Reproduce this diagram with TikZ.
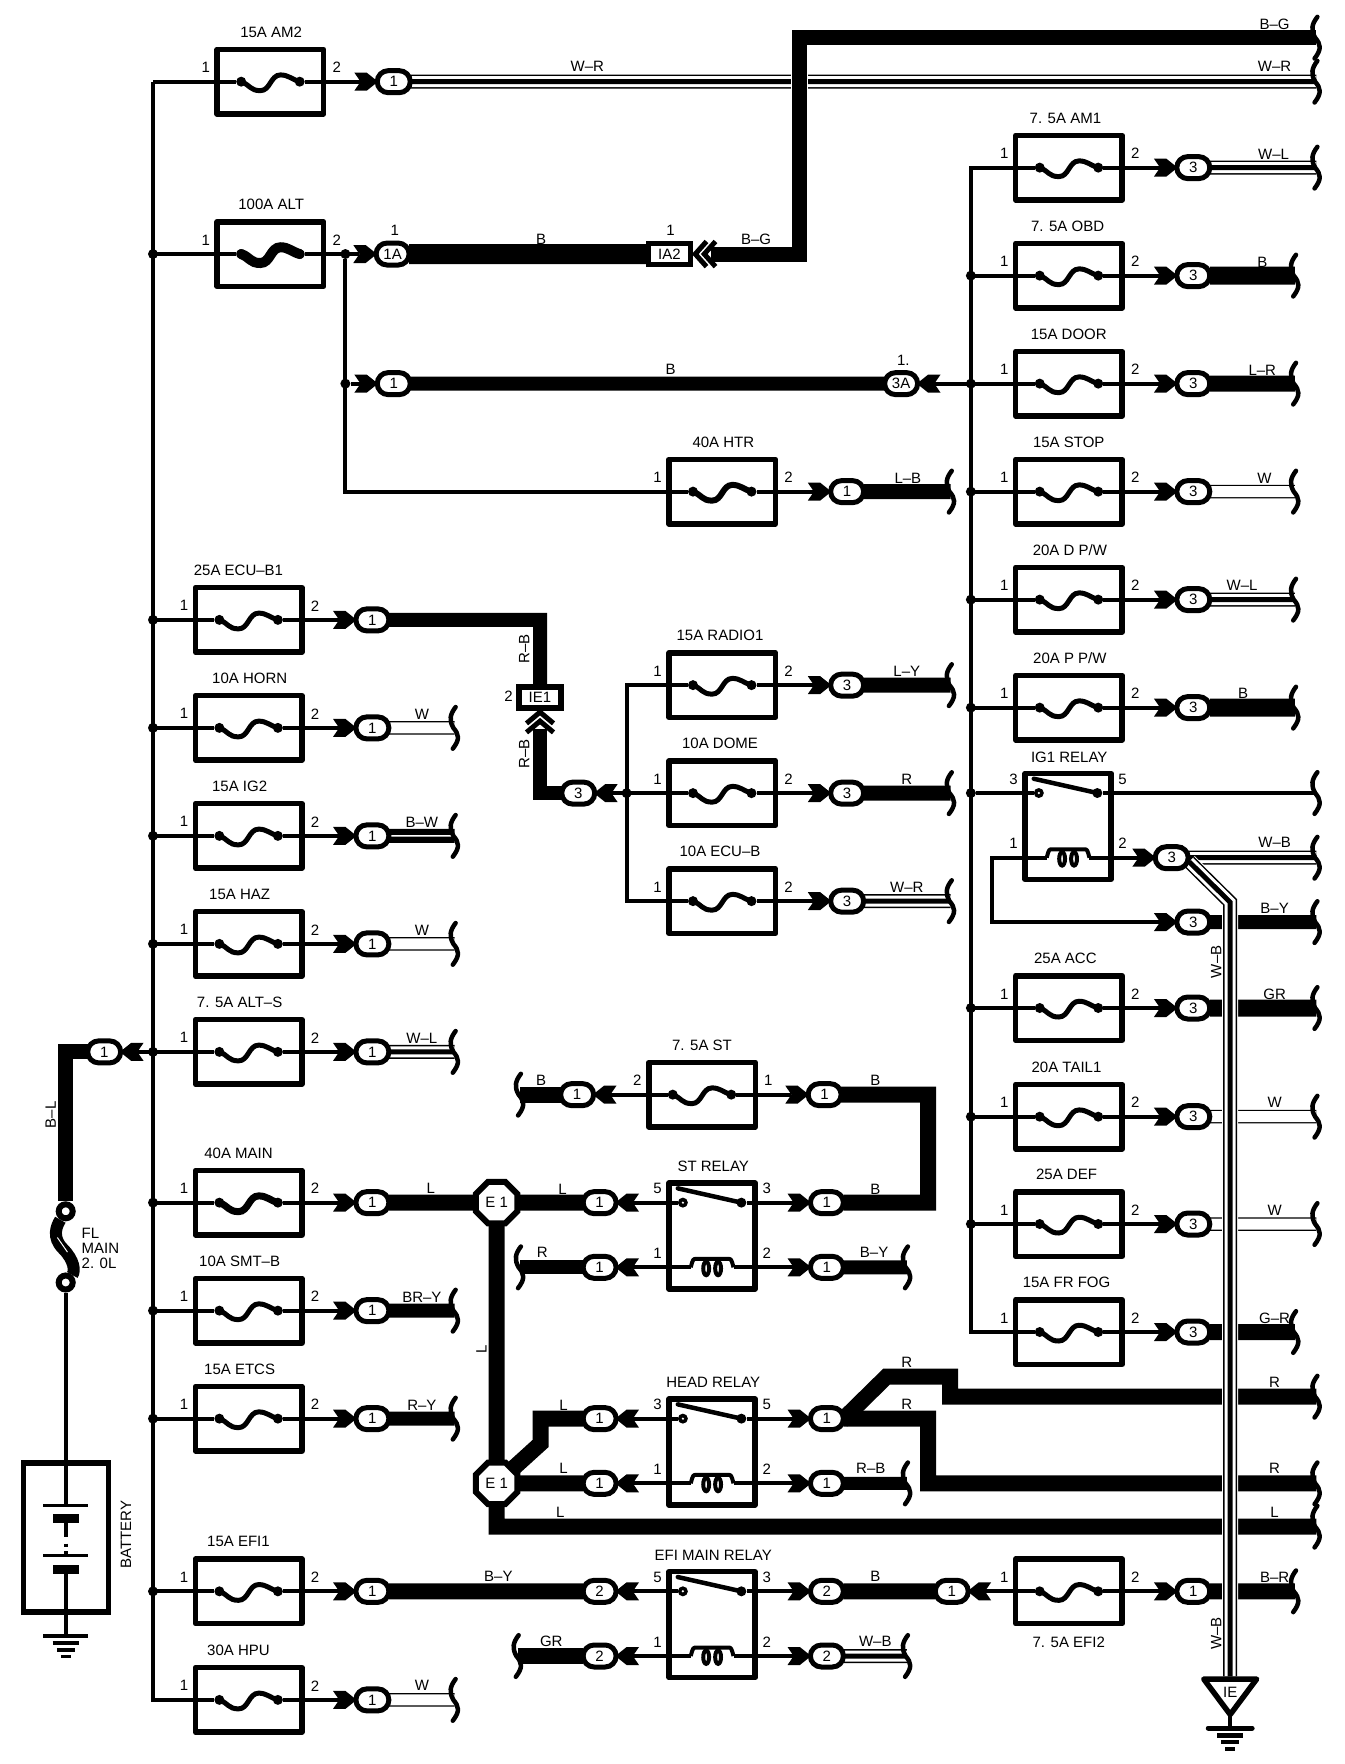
\documentclass[tikz,border=0pt]{standalone}
\usepackage{fontspec}
\setmainfont{Liberation Sans}
\usetikzlibrary{shapes.geometric,shapes.misc}
\pgfdeclarelayer{bg}\pgfdeclarelayer{cross}\pgfsetlayers{bg,cross,main}
\newcounter{lbl}
\tikzset{
 txt/.style={font=\fontsize{15}{15}\selectfont,inner sep=0pt,outer sep=0pt},
 fusebox/.style={draw,line width=5.5pt,minimum width=106.5pt,minimum height=64.5pt,inner sep=0pt,line join=round},
 relaybox/.style={draw,line width=5.5pt,minimum width=86pt,minimum height=106pt,inner sep=0pt,line join=round},
 oval/.style={rounded rectangle,draw,fill=white,line width=5pt,minimum width=33pt,minimum height=22pt,inner sep=0pt,txt},
 conbox/.style={draw,fill=white,line width=5.5pt,minimum width=42pt,minimum height=21pt,inner sep=0pt,txt},
 pindot/.style={circle,fill=black,minimum size=10pt,inner sep=0pt},
 jdot/.style={circle,fill=black,minimum size=10pt,inner sep=0pt},
 octa/.style={regular polygon,regular polygon sides=8,draw,fill=white,line width=6pt,minimum size=45pt,inner sep=0pt,txt},
 ring/.style={circle,draw,fill=white,line width=6pt,minimum size=14pt,inner sep=0pt},
 thinw/.style={line width=4pt,line join=miter},
}
\newcommand\Lb[3]{\stepcounter{lbl}\node[txt] (t\arabic{lbl}) at (#1,#2) {#3};}
\newcommand\LbR[3]{\stepcounter{lbl}\node[txt,rotate=90] (t\arabic{lbl}) at (#1,#2) {#3};}
\newcommand\Wn[1]{\begin{pgfonlayer}{bg}\draw[thinw] #1;\end{pgfonlayer}}
\newcommand\Wk[2][16]{\begin{pgfonlayer}{bg}\draw[line width=#1pt,line join=miter] #2;\end{pgfonlayer}}
\newcommand\Wd[1]{\begin{pgfonlayer}{bg}\draw[line width=14pt] #1;\draw[white,line width=11pt] #1;\draw[line width=5pt] #1;\end{pgfonlayer}}
\newcommand\Wo[1]{\begin{pgfonlayer}{bg}\draw[line width=13.5pt] #1;\draw[white,line width=11pt] #1;\end{pgfonlayer}}
\newcommand\Wb[1]{\begin{pgfonlayer}{bg}\draw[line width=14pt] #1;\draw[white,line width=1.5pt] #1;\end{pgfonlayer}}
\newcommand\Brc[3]{\coordinate (#1) at (#2,#3);
 \draw[line width=4.5pt,line cap=round] (#2+1,#3-18.5) .. controls (#2-4,#3-12) and (#2-5,#3-7) .. (#2-1,#3) .. controls (#2+4,#3+6) and (#2+5,#3+10) .. (#2-1.5,#3+18.5);}
\newcommand\Dot[3]{\node[pindot] (#1) at (#2,#3) {};\fill[white] (#1) circle (1.1);}
% optional element width, name, cx, y, text, label x, label y, left pin, right pin
\newcommand\Fuse[9][5]{%
 \node[fusebox] (#2) at (#3,#4) {};
 \Lb{#6}{#7}{#5}
 \Lb{#3-57.5}{#4-12.5}{#8}
 \Lb{#3+59}{#4-12.5}{#9}
 \Dot{#2a}{#3-26}{#4}\Dot{#2b}{#3+26}{#4}
 \draw[line width=#1pt,line cap=round] (#3-26,#4) .. controls (#3-18,#4+3) and (#3-18,#4+8) .. (#3-9,#4+8) .. controls (#3,#4+8) and (#3,#4-6) .. (#3+9,#4-6) .. controls (#3+16,#4-6) and (#3+19,#4-2) .. (#3+26,#4);
}
\newcommand\Conn[5]{%
 \fill (#2+#5*35,#3-8) -- (#2+#5*24,#3-8) -- (#2+#5*14,#3) -- (#2+#5*24,#3+8) -- (#2+#5*35,#3+8) -- (#2+#5*29.5,#3) -- cycle;
 \coordinate (#1t) at (#2+#5*29.5,#3);
 \node[oval] (#1) at (#2,#3) {#4};
}
\newcommand\Row[9][5]{%
 \Fuse[#1]{#2}{#4}{#6}{#7}{#8}{#6-44}{1}{2}
 \Conn{#2c}{#5}{#6}{#9}{-1}
 \coordinate (#2j) at (#3,#6);
 \Wn{(#2j) -- (#2a)}
 \Wn{(#2b) -- (#2ct)}
}
% name, cx, y1, text, pins
\newcommand\Relay[8]{%
 \node[relaybox] (#1) at (#2,#3+29.6) {};
 \Lb{#2+1}{#3-32}{#4}
 \Lb{#2-48.5}{#3-12.5}{#5}\Lb{#2+48.5}{#3-12.5}{#6}
 \Lb{#2-48.5}{#3+45}{#7}\Lb{#2+48.5}{#3+45}{#8}
 \Dot{#1a}{#2-26}{#3}\Dot{#1b}{#2+26}{#3}
 \draw[line width=4.5pt,line cap=round] (#2-30.5,#3-12.7) -- (#2+26,#3);
 \coordinate (#1c) at (#2-19,#3+57.5);
 \coordinate (#1d) at (#2+19,#3+57.5);
 \draw[line width=4pt,line join=round] (#1c) .. controls (#2-17,#3+50) .. (#2-14,#3+50) -- (#2+14,#3+50) .. controls (#2+17,#3+50) .. (#1d);
 \draw[line width=4pt,fill=white] (#2-5.3,#3+58.5) ellipse (2.6 and 6);
 \draw[line width=4pt,fill=white] (#2+5.3,#3+58.5) ellipse (2.6 and 6);
}
\begin{document}
\begin{tikzpicture}[x=1.125pt,y=-1.125pt]
\useasboundingbox (0,0) rectangle (1194.667,1568);
\begin{pgfonlayer}{bg}\fill[white] (0,0) rectangle (1194.667,1568);\end{pgfonlayer}

%% Column A
\Row{am2}{136}{240.4}{350}{72.6}{15A AM2}{241}{1}
\Row[10]{alt}{136}{240.4}{349}{225.8}{100A ALT}{241}{1A}
\Lb{351}{205}{1}
\Brc{bbg}{1170}{33.5}
\Brc{bwr}{1170}{72.6}
\Wd{(am2c) -- (bwr)}
\Lb{522}{59}{W–R}\Lb{1133}{59}{W–R}\Lb{1133}{22}{B–G}
\node[conbox] (ia2) at (595,225.8) {IA2};
\Lb{596}{205}{1}
\draw[line width=5pt] (636,214.6) -- (626,225.8) -- (636,237);
\draw[line width=5pt] (628,214.6) -- (618,225.8) -- (628,237);
\coordinate (ia2e) at (632,225.8);
\coordinate (bgc1) at (710.7,225.8);
\coordinate (bgc2) at (710.7,33.5);
\Wk[20]{(altc) -- (ia2)}
\begin{pgfonlayer}{bg}\draw[white,line width=17.5pt] (710.7,225.8) -- (710.7,50);\end{pgfonlayer}
\Wk[15]{(ia2e) -- (bgc1) -- (bgc2) -- (bbg)}
\Lb{481}{213}{B}\Lb{672}{213}{B–G}

%% Second feed and HTR
\node[jdot] (jalt) at (307,225.8) {};
\node[jdot] (j341) at (307,341) {};
\Row[6]{htr}{307}{642}{753}{437}{40A HTR}{643}{1}
\Wn{(jalt) -- (htrj) -- (htra)}
\Conn{cb}{350}{341}{1}{-1}
\Conn{cr}{801}{341}{3A}{1}
\Wn{(j341) -- (cbt)}
\Wk[14]{(cb) -- (cr)}
\Lb{596}{328}{B}\Lb{803}{320}{1.}
\Brc{bhtr}{845}{437}\Wk[15]{(htrc) -- (bhtr)}\Lb{807}{425}{L–B}

%% Column B
\Row{ecub}{136}{221}{331}{551}{25A ECU–B1}{212}{1}
\Row{horn}{136}{221}{331}{647}{10A HORN}{222}{1}
\Row{igt}{136}{221}{331}{743}{15A IG2}{213}{1}
\Row{haz}{136}{221}{331}{839}{15A HAZ}{213}{1}
\Row{alts}{136}{221}{331}{935}{7. 5A ALT–S}{213}{1}
\Row[7]{main}{136}{221}{331}{1069}{40A MAIN}{212}{1}
\Row{smt}{136}{221}{331}{1165}{10A SMT–B}{213}{1}
\Row{etcs}{136}{221}{331}{1261}{15A ETCS}{213}{1}
\Row{efia}{136}{221}{331}{1414.5}{15A EFI1}{212}{1}
\Row{hpu}{136}{221}{331}{1511}{30A HPU}{212}{1}
\Wn{(am2j) -- (hpuj) -- (hpua)}
\foreach \n in {altj,ecubj,hornj,igtj,hazj,altsj,mainj,smtj,etcsj,efiaj}{\node[jdot] (d\n) at (\n) {};}
\Brc{bhorn}{404}{647}\Wo{(hornc) -- (bhorn)}\Lb{375}{635}{W}
\Brc{bigt}{404}{743}\Wb{(igtc) -- (bigt)}\Lb{375}{731}{B–W}
\Brc{bhaz}{404}{839}\Wo{(hazc) -- (bhaz)}\Lb{375}{827}{W}
\Brc{balts}{404}{935}\Wd{(altsc) -- (balts)}\Lb{375}{923}{W–L}
\Brc{bsmt}{404}{1165}\Wk[14]{(smtc) -- (bsmt)}\Lb{375}{1153}{BR–Y}
\Brc{betcs}{404}{1261}\Wk[14]{(etcsc) -- (betcs)}\Lb{375}{1249}{R–Y}
\Brc{bhpu}{404}{1511}\Wo{(hpuc) -- (bhpu)}\Lb{375}{1498}{W}

%% ECU-B1 to IE1
\node[conbox] (ie) at (480,620) {IE1};
\Lb{452}{619}{2}
\draw[line width=5pt] (468,643) -- (480,633) -- (492,643);
\draw[line width=5pt] (468,651) -- (480,641) -- (492,651);
\coordinate (iet) at (480,551);
\coordinate (ieu) at (480,648);
\coordinate (iev) at (480,705);
\Wk[14]{(ecubc) -- (iet) -- (ie)}
\Wk[14]{(ieu) -- (iev) -- (515,705)}
\LbR{466}{577}{R–B}\LbR{466}{670}{R–B}

%% Column C
\Fuse{radio}{642}{609}{15A RADIO1}{640}{565}{1}{2}
\Fuse{dome}{642}{705}{10A DOME}{640}{661}{1}{2}
\Fuse{ecuc}{642}{801}{10A ECU–B}{640}{757}{1}{2}
\Conn{cie}{514}{705}{3}{1}
\Conn{rac}{753}{609}{3}{-1}\Conn{doc}{753}{705}{3}{-1}\Conn{ecc}{753}{801}{3}{-1}
\node[jdot] (jc) at (557,705) {};
\coordinate (jct) at (557,609);\coordinate (jcb) at (557,801);
\Wn{(radioa) -- (jct) -- (jcb) -- (ecuca)}
\Wn{(ciet) -- (domea)}
\Wn{(radiob) -- (ract)}\Wn{(domeb) -- (doct)}\Wn{(ecucb) -- (ecct)}
\Brc{bra}{845}{609}\Wk[15]{(rac) -- (bra)}\Lb{806}{597}{L–Y}
\Brc{bdo}{845}{705}\Wk[15]{(doc) -- (bdo)}\Lb{806}{693}{R}
\Brc{bec}{845}{801}\Wd{(ecc) -- (bec)}\Lb{806}{789}{W–R}

%% Column D
\Row{ama}{863}{950.2}{1060.7}{149}{7. 5A AM1}{947}{3}
\Row{obd}{863}{950.2}{1060.7}{245}{7. 5A OBD}{949}{3}
\Row{door}{863}{950.2}{1060.7}{341}{15A DOOR}{950}{3}
\Row{stop}{863}{950.2}{1060.7}{437}{15A STOP}{950}{3}
\Row{dpw}{863}{950.2}{1060.7}{533}{20A D P/W}{951}{3}
\Row{ppw}{863}{950.2}{1060.7}{629}{20A P P/W}{951}{3}
\Row{acc}{863}{950.2}{1060.7}{896}{25A ACC}{947}{3}
\Row{tail}{863}{950.2}{1060.7}{992.6}{20A TAIL1}{948}{3}
\Row{def}{863}{950.2}{1060.7}{1088}{25A DEF}{948}{3}
\Row{fog}{863}{950.2}{1060.7}{1184}{15A FR FOG}{948}{3}
\Wn{(amaa) -- (amaj) -- (fogj) -- (foga)}
\foreach \n in {obdj,doorj,stopj,dpwj,ppwj,accj,tailj,defj}{\node[jdot] (d\n) at (\n) {};}
\Wn{(crt) -- (doorj)}
\Brc{bama}{1170}{149}\Wd{(amac) -- (bama)}\Lb{1132}{137}{W–L}
\Brc{bobd}{1151}{245}\Wk[18]{(obdc) -- (bobd)}\Lb{1122}{233}{B}
\Brc{bdoor}{1151}{341}\Wk[16]{(doorc) -- (bdoor)}\Lb{1122}{329}{L–R}
\Brc{bstop}{1151}{437}\Wo{(stopc) -- (bstop)}\Lb{1124}{425}{W}
\Brc{bdpw}{1151}{533}\Wd{(dpwc) -- (bdpw)}\Lb{1104}{520}{W–L}
\Brc{bppw}{1151}{629}\Wk[18]{(ppwc) -- (bppw)}\Lb{1105}{616}{B}
\Brc{bacc}{1170}{896}\Wk[17]{(accc) -- (bacc)}\Lb{1133}{884}{GR}
\Brc{btail}{1170}{992.6}\Wo{(tailc) -- (btail)}\Lb{1133}{980}{W}
\Brc{bdef}{1170}{1088}\Wo{(defc) -- (bdef)}\Lb{1133}{1076}{W}
\Brc{bfog}{1151}{1184}\Wk[16]{(fogc) -- (bfog)}\Lb{1133}{1172}{G–R}

%% IG1 relay
\Relay{ig}{949.4}{704.9}{IG1 RELAY}{3}{5}{1}{2}
\node[jdot] (jig) at (863,704.9) {};
\Brc{bign}{1170}{704.9}
\Wn{(jig) -- (iga)}\Wn{(igb) -- (bign)}
\Conn{cig}{1041.5}{762.4}{3}{-1}
\Conn{cby}{1060.7}{819.6}{3}{-1}
\coordinate (igl) at (881.5,762.4);\coordinate (igm) at (881.5,819.6);
\Wn{(igc) -- (igl) -- (igm) -- (cbyt)}
\Wn{(igd) -- (cigt)}
\Brc{bwb}{1170}{762.4}\Wd{(cig) -- (bwb)}\Lb{1133}{749}{W–B}
\Brc{bby}{1170}{819.6}\Wk[14]{(cby) -- (bby)}\Lb{1133}{807}{B–Y}

%% 7.5A ST and ST relay
\Fuse{st}{624}{973}{7. 5A ST}{624}{929}{2}{1}
\Conn{stl}{513}{973}{1}{1}\Conn{str}{733}{973}{1}{-1}
\Wn{(stlt) -- (sta)}\Wn{(stb) -- (strt)}
\Brc{bst}{462}{973}\Wk{(bst) -- (stl)}\Lb{481}{960}{B}\Lb{778}{960}{B}
\Relay{sr}{633}{1069}{ST RELAY}{5}{3}{1}{2}
\Conn{srl}{533}{1069}{1}{1}\Conn{srr}{735}{1069}{1}{-1}
\Conn{srf}{533}{1126.5}{1}{1}\Conn{srg}{735}{1126.5}{1}{-1}
\Wn{(srlt) -- (sra)}\Wn{(srb) -- (srrt)}\Wn{(srft) -- (src)}\Wn{(srd) -- (srgt)}
\coordinate (sta1) at (825,973);\coordinate (sta2) at (825,1069);
\Wk{(str) -- (sta1) -- (sta2) -- (srr)}
\Lb{778}{1057}{B}
\Brc{bsrf}{462}{1126.5}\Wk[14]{(bsrf) -- (srf)}\Lb{482}{1113}{R}
\Brc{bsrg}{806}{1126.5}\Wk[14]{(srg) -- (bsrg)}\Lb{777}{1113}{B–Y}

%% E1 and head relay
\node[octa] (ea) at (441.5,1069) {E 1};
\node[octa] (eb) at (441.5,1318.5) {E 1};
\Relay{hr}{633}{1261}{HEAD RELAY}{3}{5}{1}{2}
\Conn{hrl}{533}{1261}{1}{1}\Conn{hrr}{735}{1261}{1}{-1}
\Conn{hrf}{533}{1318.5}{1}{1}\Conn{hrg}{735}{1318.5}{1}{-1}
\Wn{(hrlt) -- (hra)}\Wn{(hrb) -- (hrrt)}\Wn{(hrft) -- (hrc)}\Wn{(hrd) -- (hrgt)}
\Wk{(mainc) -- (ea) -- (srl)}
\Wk{(ea) -- (eb) -- (hrf)}
\coordinate (el1) at (480.6,1261);\coordinate (el2) at (480.6,1283);
\Wk{(hrl) -- (el1) -- (el2) -- (eb)}
\coordinate (eb1) at (441.5,1357);
\Brc{bl}{1170}{1357}\Wk{(eb) -- (eb1) -- (bl)}
\Lb{383}{1056}{L}\Lb{500}{1057}{L}\LbR{428}{1199}{L}
\Lb{501}{1249}{L}\Lb{501}{1305}{L}\Lb{498}{1344}{L}\Lb{1133}{1344}{L}
\coordinate (ra0) at (748,1263);\coordinate (ra1) at (788,1223.7);\coordinate (ra2) at (844.6,1223.7);\coordinate (ra3) at (844.6,1241.5);
\Brc{bra2}{1170}{1241.5}\Wk{(ra0) -- (ra1) -- (ra2) -- (ra3) -- (bra2)}
\coordinate (rb1) at (825,1261);\coordinate (rb2) at (825,1318.5);
\Brc{brb}{1170}{1318.5}\Wk{(hrr) -- (rb1) -- (rb2) -- (brb)}
\Lb{806}{1211}{R}\Lb{806}{1248}{R}\Lb{1133}{1229}{R}\Lb{1133}{1305}{R}
\Brc{bhrg}{806}{1318.5}\Wk[13]{(hrg) -- (bhrg)}\Lb{774}{1305}{R–B}

%% EFI main relay
\Relay{er}{633}{1414.5}{EFI MAIN RELAY}{5}{3}{1}{2}
\Conn{erl}{533}{1414.5}{2}{1}\Conn{err}{735}{1414.5}{2}{-1}
\Conn{erf}{533}{1472}{2}{1}\Conn{erg}{735}{1472}{2}{-1}
\Wn{(erlt) -- (era)}\Wn{(erb) -- (errt)}\Wn{(erft) -- (erc)}\Wn{(erd) -- (ergt)}
\Wk{(efiac) -- (erl)}\Lb{443}{1401}{B–Y}
\Fuse{efib}{950.2}{1414.5}{7. 5A EFI2}{950}{1460}{1}{2}
\Conn{ehl}{846}{1414.5}{1}{1}\Conn{ehr}{1060.7}{1414.5}{1}{-1}
\Wk{(err) -- (ehl)}\Lb{778}{1401}{B}
\Wn{(ehlt) -- (efiba)}\Wn{(efibb) -- (ehrt)}
\Brc{behr}{1151}{1414.5}\Wk{(ehr) -- (behr)}\Lb{1133}{1402}{B–R}
\Brc{berf}{460}{1472}\Wk{(berf) -- (erf)}\Lb{490}{1459}{GR}
\Brc{berg}{806}{1472}\Wd{(erg) -- (berg)}\Lb{778}{1459}{W–B}

%% W-B ground wire
\coordinate (wb0) at (1057,766);\coordinate (wb1) at (1093.5,802);\coordinate (wb2) at (1093.5,1490);
\begin{pgfonlayer}{cross}
\draw[white,line width=16pt] (wb0) -- (wb1) -- (wb2);
\draw[line width=14pt] (wb0) -- (wb1) -- (wb2);
\draw[white,line width=11pt] (wb0) -- (wb1) -- (wb2);
\draw[line width=5pt] (wb0) -- (wb1) -- (wb2);
\end{pgfonlayer}
\LbR{1081}{855}{W–B}\LbR{1081}{1452}{W–B}
\node[txt] (ienode) at (1093.5,1504) {IE};
\coordinate (tri1) at (1070,1492.5);\coordinate (tri2) at (1117,1492.5);\coordinate (tri3) at (1093.5,1524);
\begin{pgfonlayer}{cross}
\draw[line width=5.5pt,fill=white,line join=round] (tri1) -- (tri2) -- (tri3) -- cycle;
\end{pgfonlayer}
\coordinate (gd0) at (1093.5,1536);
\Wn{(tri3) -- (gd0)}
\draw[line width=5pt,line cap=round] (1074,1536) -- (1113,1536);
\draw[line width=4.5pt] (1082,1542.5) -- (1105,1542.5);
\draw[line width=4pt] (1085.5,1548.5) -- (1101.5,1548.5);
\draw[line width=4pt] (1089,1554.5) -- (1098,1554.5);

%% B-L feed, fusible link, battery
\Conn{cfl}{92.6}{935}{1}{1}
\Wn{(cflt) -- (altsj)}
\coordinate (fla) at (58.4,935);
\node[ring] (flt) at (58.4,1076.7) {};
\node[ring] (flb) at (58.4,1140) {};
\Wk[15]{(cfl) -- (fla) -- (flt)}
\begin{pgfonlayer}{bg}
\draw[line width=12pt] (flt) .. controls (50,1090) and (46,1100) .. (56,1110) .. controls (66,1120) and (67,1130) .. (flb);
\end{pgfonlayer}
\draw[white,line width=1pt] (51,1100) -- (60,1113);
\stepcounter{lbl}\node[txt,align=left,anchor=west] (flt2) at (72.6,1110) {FL\\MAIN\\2. 0L};
\LbR{45}{991}{B–L}
\LbR{112}{1364}{BATTERY}
\node[draw,line width=5.5pt,minimum width=85pt,minimum height=149pt,inner sep=0pt] (batt) at (58.5,1366.5) {};
\coordinate (bw1) at (58.4,1338);
\coordinate (bw2) at (58.4,1366);\coordinate (bw3) at (58.4,1372);
\coordinate (bw6) at (58.4,1395);\coordinate (bw7) at (58.4,1454);
\Wn{(flb) -- (bw1)}
\Wn{(58.4,1349) -- (bw2)}\Wn{(bw3) -- (58.4,1375)}\Wn{(58.4,1379) -- (58.4,1383)}
\Wn{(bw6) -- (bw7)}
\draw[line width=3pt] (38.5,1338) -- (78.5,1338);
\fill (46.8,1346) rectangle (70,1354);
\draw[line width=3pt] (38.5,1383) -- (78.5,1383);
\fill (46.8,1391) rectangle (70,1399);
\draw[line width=3.5pt] (38.5,1454) -- (78.5,1454);
\draw[line width=3.5pt] (46.8,1460.5) -- (70,1460.5);
\draw[line width=3.5pt] (50.5,1466.5) -- (66.3,1466.5);
\draw[line width=3.5pt] (54,1472.5) -- (62.8,1472.5);
\end{tikzpicture}
\end{document}
